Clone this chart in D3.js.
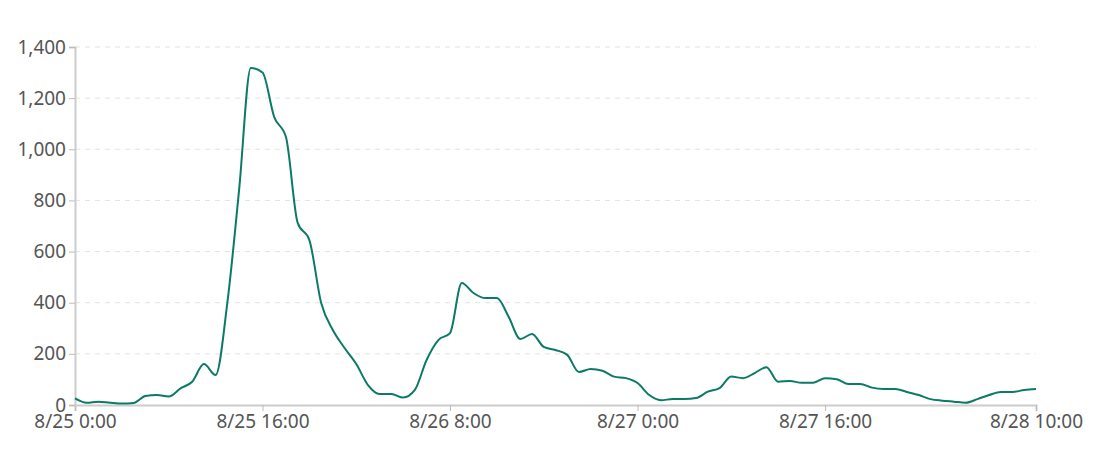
<!DOCTYPE html>
<html>
<head>
<meta charset="utf-8">
<script src="https://cdn.jsdelivr.net/npm/d3@7"></script>
<style>
  body { margin: 0; background: #fff; }
  .axis text { font-family: "Noto Sans", sans-serif; font-size: 19px; fill: #555; }
  .grid line { stroke: #e3e3e3; stroke-dasharray: 5,5; }
</style>
</head>
<body>
<script>
// hourly counts starting 8/25 0:00
const startTime = new Date(2020, 7, 25, 0, 0);
const counts = [
  26, 9, 13, 9, 6, 8, 35, 39, 33, 65, 91, 160, 117, 400, 840, 1318, 1300, 1126, 1048, 712,
  645, 400, 293, 223, 160, 78, 43, 43, 29, 59, 176, 254, 281, 477, 438, 418, 418, 345, 258, 278,
  227, 215, 196, 129, 141, 134, 111, 105, 86, 39, 19, 23, 23, 27, 52, 66, 111, 105, 125, 148,
  91, 94, 87, 87, 105, 101, 82, 82, 68, 63, 63, 51, 39, 23, 17, 13, 9, 23, 39, 51,
  51, 59, 63
];
const xTickHours = [0, 16, 32, 48, 64, 82];
const yTicks = [0, 200, 400, 600, 800, 1000, 1200, 1400];

const width = 1100, height = 450;
const margin = { top: 47, right: 64, bottom: 45, left: 75 };

const hourToDate = h => new Date(startTime.getTime() + h * 3600 * 1000);
const data = counts.map((v, i) => ({ t: hourToDate(i), v: v }));

const svg = d3.select("body").append("svg")
  .attr("width", width)
  .attr("height", height);

const x = d3.scaleTime()
  .domain([hourToDate(0), hourToDate(82)])
  .range([margin.left, width - margin.right]);

const y = d3.scaleLinear()
  .domain([0, 1400])
  .range([height - margin.bottom, margin.top]);

// gridlines
svg.append("g")
  .attr("class", "grid")
  .selectAll("line")
  .data(yTicks.slice(1))
  .enter()
  .append("line")
  .attr("x1", margin.left)
  .attr("x2", width - margin.right)
  .attr("y1", d => y(d))
  .attr("y2", d => y(d));

const fmt = d3.timeFormat("%-m/%-d %-H:%M");

svg.append("g")
  .attr("class", "axis")
  .attr("transform", "translate(0," + (height - margin.bottom) + ")")
  .call(d3.axisBottom(x)
    .tickValues(xTickHours.map(hourToDate))
    .tickFormat(fmt)
    .tickSize(6)
    .tickPadding(4));

svg.append("g")
  .attr("class", "axis")
  .attr("transform", "translate(" + margin.left + ",0)")
  .call(d3.axisLeft(y)
    .tickValues(yTicks)
    .tickFormat(d3.format(","))
    .tickSize(6)
    .tickPadding(3));

svg.selectAll(".axis .domain").attr("stroke", "#ccc").attr("stroke-width", 2);
svg.selectAll(".axis .tick line").attr("stroke", "#bbb");

const line = d3.line()
  .x(d => x(d.t))
  .y(d => y(d.v))
  .curve(d3.curveMonotoneX);

svg.append("path")
  .datum(data)
  .attr("fill", "none")
  .attr("stroke", "#0b7a66")
  .attr("stroke-width", 2)
  .attr("d", line);
</script>
</body>
</html>
